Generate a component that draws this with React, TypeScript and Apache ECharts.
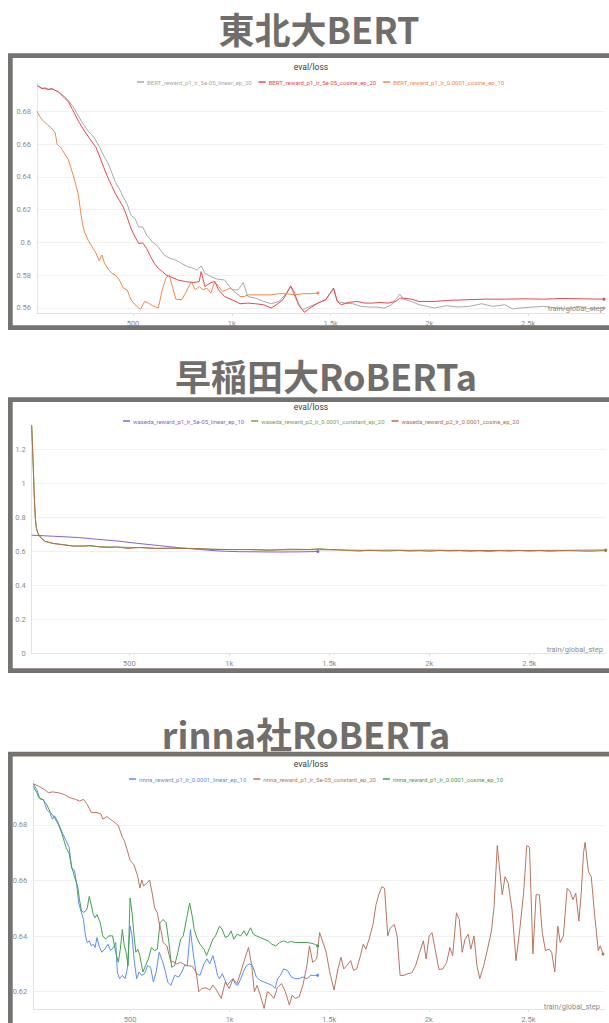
import React, { useEffect, useRef } from "react";
import * as echarts from "echarts";

// ---------- Panel 1: 東北大BERT ----------
const bertLinearEp20 = [[16,0.6954],[46,0.6938],[97,0.6932],[131,0.6912],[165,0.6877],[198,0.6826],[214,0.6790],[244,0.6729],[273,0.6679],[303,0.6639],[332,0.6578],[352,0.6528],[372,0.6487],[392,0.6427],[411,0.6366],[431,0.6326],[451,0.6276],[470,0.6235],[490,0.6165],[510,0.6145],[529,0.6094],[549,0.6094],[569,0.6044],[598,0.6003],[628,0.5973],[658,0.5923],[687,0.5903],[717,0.5892],[746,0.5872],[776,0.5852],[805,0.5842],[825,0.5832],[845,0.5856],[864,0.5812],[894,0.5792],[923,0.5777],[963,0.5771],[1002,0.5711],[1032,0.5711],[1058,0.5755],[1081,0.5670],[1121,0.5660],[1160,0.5640],[1199,0.5626],[1239,0.5640],[1278,0.5691],[1298,0.5731],[1327,0.5650],[1357,0.5590],[1396,0.5610],[1436,0.5630],[1475,0.5650],[1515,0.5721],[1534,0.5640],[1574,0.5630],[1613,0.5626],[1653,0.5610],[1692,0.5606],[1731,0.5606],[1771,0.5600],[1810,0.5620],[1850,0.5685],[1869,0.5654],[1909,0.5640],[1948,0.5620],[1988,0.5610],[2027,0.5600],[2086,0.5614],[2145,0.5606],[2204,0.5610],[2264,0.5626],[2322,0.5610],[2382,0.5620],[2421,0.5594],[2460,0.5600],[2520,0.5606],[2579,0.5610],[2638,0.5600],[2697,0.5594],[2756,0.5610],[2815,0.5594],[2884,0.5600]];
const bertCosineLr5eEp20 = [[16,0.6959],[26,0.6948],[38,0.6938],[55,0.6942],[71,0.6932],[89,0.6938],[105,0.6928],[122,0.6918],[139,0.6898],[156,0.6877],[173,0.6857],[194,0.6810],[224,0.6739],[254,0.6679],[283,0.6629],[313,0.6578],[336,0.6508],[352,0.6457],[372,0.6397],[392,0.6346],[411,0.6296],[431,0.6255],[451,0.6215],[470,0.6155],[490,0.6084],[510,0.6034],[529,0.5993],[549,0.5997],[569,0.5963],[589,0.5913],[608,0.5872],[628,0.5842],[648,0.5822],[667,0.5802],[687,0.5792],[726,0.5771],[766,0.5761],[805,0.5755],[835,0.5761],[845,0.5822],[864,0.5731],[894,0.5755],[914,0.5761],[933,0.5711],[963,0.5670],[1002,0.5650],[1042,0.5626],[1081,0.5630],[1121,0.5626],[1160,0.5620],[1199,0.5600],[1219,0.5614],[1259,0.5650],[1298,0.5735],[1318,0.5691],[1337,0.5620],[1367,0.5574],[1396,0.5600],[1436,0.5630],[1475,0.5650],[1515,0.5721],[1534,0.5640],[1554,0.5620],[1594,0.5634],[1633,0.5640],[1672,0.5630],[1712,0.5630],[1751,0.5634],[1791,0.5630],[1830,0.5640],[1850,0.5660],[1870,0.5660],[1909,0.5654],[1948,0.5640],[1988,0.5640],[2027,0.5640],[2086,0.5646],[2185,0.5650],[2283,0.5654],[2382,0.5654],[2480,0.5656],[2579,0.5654],[2677,0.5658],[2776,0.5656],[2884,0.5654]];
const bertCosineLr1e4Ep10 = [[14,0.6800],[27,0.6770],[47,0.6739],[66,0.6719],[86,0.6699],[106,0.6669],[116,0.6598],[135,0.6578],[155,0.6538],[171,0.6508],[185,0.6457],[198,0.6407],[214,0.6336],[224,0.6286],[234,0.6195],[244,0.6114],[254,0.6064],[273,0.6013],[293,0.5973],[313,0.5933],[329,0.5888],[342,0.5923],[356,0.5872],[372,0.5842],[392,0.5812],[411,0.5801],[431,0.5771],[451,0.5721],[470,0.5711],[490,0.5650],[510,0.5620],[529,0.5600],[539,0.5594],[559,0.5640],[579,0.5630],[598,0.5614],[628,0.5600],[648,0.5711],[667,0.5782],[683,0.5802],[697,0.5741],[717,0.5654],[746,0.5650],[766,0.5691],[786,0.5741],[795,0.5761],[815,0.5711],[835,0.5731],[855,0.5711],[874,0.5721],[894,0.5691],[914,0.5761],[933,0.5731],[953,0.5701],[973,0.5711],[993,0.5721],[1022,0.5691],[1042,0.5670],[1062,0.5670],[1081,0.5680],[1121,0.5680],[1160,0.5680],[1199,0.5680],[1239,0.5687],[1278,0.5687],[1318,0.5680],[1357,0.5687],[1396,0.5687],[1436,0.5691]];

// ---------- Panel 2: 早稲田大RoBERTa ----------
const wasedaLinearEp10 = [[12,0.696],[120,0.690],[250,0.682],[340,0.672],[440,0.662],[540,0.648],[650,0.635],[750,0.622],[850,0.612],[950,0.603],[1050,0.599],[1150,0.598],[1250,0.597],[1350,0.598],[1443,0.600]];
const wasedaConstantEp20 = [[12,1.343],[16,1.22],[20,1.09],[25,0.92],[30,0.80],[35,0.74],[42,0.71],[55,0.685],[78,0.66],[120,0.647],[170,0.640],[220,0.632],[300,0.633],[353,0.628],[436,0.626],[553,0.623],[630,0.619],[727,0.619],[825,0.617],[922,0.614],[1019,0.611],[1100,0.612],[1200,0.607],[1300,0.614],[1400,0.612],[1450,0.617],[1500,0.612],[1550,0.610],[1600,0.606],[1650,0.602],[1700,0.608],[1750,0.604],[1800,0.603],[1850,0.607],[1900,0.602],[1950,0.605],[2000,0.601],[2050,0.606],[2100,0.603],[2150,0.605],[2200,0.601],[2250,0.604],[2300,0.600],[2350,0.605],[2400,0.602],[2450,0.606],[2500,0.602],[2550,0.605],[2600,0.601],[2650,0.604],[2700,0.605],[2750,0.603],[2800,0.601],[2850,0.604],[2882,0.606]];
const wasedaCosineEp20 = [[12,1.343],[16,1.22],[20,1.09],[25,0.92],[30,0.80],[35,0.74],[42,0.71],[55,0.685],[78,0.66],[120,0.648],[170,0.640],[220,0.632],[280,0.632],[303,0.636],[353,0.627],[397,0.624],[436,0.627],[494,0.618],[553,0.624],[630,0.618],[727,0.620],[825,0.618],[922,0.612],[1019,0.612],[1100,0.611],[1213,0.609],[1300,0.610],[1408,0.611],[1500,0.610],[1602,0.608],[1700,0.607],[1796,0.608],[1900,0.607],[1991,0.608],[2100,0.607],[2185,0.607],[2300,0.606],[2380,0.607],[2480,0.606],[2574,0.607],[2680,0.607],[2768,0.608],[2882,0.609]];

// ---------- Panel 3: rinna社RoBERTa ----------
const rinnaLinearEp10 = [[14,0.6948],[32,0.6927],[42,0.6904],[51,0.6892],[65,0.6892],[81,0.6856],[96,0.6845],[110,0.6821],[120,0.6833],[135,0.6815],[149,0.6791],[162,0.6768],[178,0.6744],[194,0.6720],[207,0.6643],[221,0.6637],[231,0.6590],[242,0.6519],[256,0.6484],[266,0.6460],[276,0.6401],[285,0.6377],[295,0.6383],[305,0.6365],[315,0.6371],[324,0.6359],[334,0.6395],[344,0.6365],[358,0.6342],[373,0.6353],[389,0.6371],[402,0.6348],[416,0.6359],[428,0.6377],[436,0.6271],[447,0.6247],[461,0.6259],[475,0.6247],[486,0.6282],[500,0.6436],[510,0.6401],[520,0.6318],[533,0.6247],[545,0.6271],[559,0.6259],[572,0.6265],[588,0.6294],[603,0.6288],[617,0.6235],[631,0.6271],[646,0.6342],[662,0.6312],[676,0.6277],[689,0.6235],[705,0.6223],[724,0.6259],[744,0.6253],[760,0.6271],[773,0.6294],[787,0.6294],[803,0.6424],[816,0.6342],[832,0.6265],[851,0.6259],[871,0.6300],[886,0.6318],[900,0.6300],[916,0.6330],[929,0.6294],[939,0.6259],[949,0.6247],[963,0.6265],[974,0.6247],[988,0.6223],[1001,0.6235],[1017,0.6247],[1027,0.6229],[1041,0.6223],[1056,0.6247],[1072,0.6277],[1085,0.6294],[1099,0.6300],[1115,0.6294],[1134,0.6253],[1154,0.6241],[1173,0.6235],[1193,0.6229],[1212,0.6223],[1228,0.6212],[1241,0.6247],[1255,0.6259],[1271,0.6282],[1290,0.6277],[1310,0.6253],[1329,0.6247],[1349,0.6247],[1368,0.6253],[1388,0.6247],[1407,0.6259],[1427,0.6259],[1442,0.6259]];
const rinnaConstantEp20 = [[14,0.6948],[42,0.6939],[71,0.6927],[90,0.6916],[110,0.6919],[139,0.6916],[168,0.6910],[198,0.6898],[227,0.6892],[246,0.6886],[266,0.6892],[285,0.6874],[305,0.6845],[334,0.6845],[354,0.6839],[363,0.6821],[383,0.6830],[412,0.6815],[441,0.6798],[461,0.6756],[471,0.6744],[486,0.6709],[500,0.6673],[520,0.6656],[539,0.6614],[549,0.6573],[559,0.6602],[568,0.6581],[584,0.6590],[598,0.6602],[611,0.6555],[623,0.6502],[637,0.6484],[646,0.6448],[656,0.6419],[666,0.6377],[676,0.6371],[685,0.6365],[705,0.6306],[715,0.6309],[734,0.6300],[754,0.6306],[783,0.6294],[812,0.6292],[832,0.6271],[845,0.6200],[861,0.6212],[881,0.6214],[900,0.6206],[916,0.6224],[929,0.6212],[958,0.6176],[978,0.6235],[998,0.6211],[1017,0.6247],[1037,0.6229],[1056,0.6271],[1076,0.6318],[1095,0.6359],[1111,0.6294],[1124,0.6200],[1138,0.6223],[1154,0.6188],[1173,0.6140],[1189,0.6200],[1202,0.6194],[1222,0.6176],[1241,0.6217],[1261,0.6229],[1280,0.6200],[1300,0.6152],[1314,0.6188],[1329,0.6176],[1349,0.6182],[1368,0.6223],[1388,0.6294],[1401,0.6365],[1417,0.6306],[1437,0.6318],[1452,0.6413],[1485,0.6342],[1501,0.6277],[1524,0.6206],[1544,0.6282],[1559,0.6324],[1573,0.6282],[1589,0.6294],[1608,0.6312],[1622,0.6277],[1638,0.6282],[1657,0.6330],[1671,0.6371],[1684,0.6353],[1700,0.6389],[1720,0.6442],[1735,0.6513],[1749,0.6549],[1764,0.6578],[1778,0.6572],[1794,0.6401],[1807,0.6430],[1827,0.6442],[1841,0.6401],[1856,0.6259],[1876,0.6259],[1895,0.6265],[1915,0.6268],[1934,0.6294],[1954,0.6342],[1973,0.6383],[1987,0.6318],[2002,0.6401],[2016,0.6413],[2032,0.6353],[2051,0.6280],[2071,0.6282],[2090,0.6306],[2106,0.6359],[2120,0.6330],[2139,0.6484],[2153,0.6460],[2168,0.6342],[2182,0.6389],[2198,0.6407],[2211,0.6353],[2227,0.6401],[2242,0.6294],[2256,0.6247],[2276,0.6294],[2295,0.6353],[2315,0.6419],[2328,0.6507],[2344,0.6726],[2358,0.6626],[2369,0.6549],[2383,0.6614],[2399,0.6590],[2418,0.6496],[2438,0.6312],[2457,0.6424],[2477,0.6561],[2492,0.6726],[2506,0.6720],[2523,0.6336],[2539,0.6549],[2555,0.6549],[2570,0.6413],[2586,0.6348],[2605,0.6353],[2617,0.6342],[2633,0.6271],[2648,0.6436],[2660,0.6377],[2676,0.6401],[2695,0.6572],[2709,0.6561],[2724,0.6531],[2738,0.6555],[2754,0.6454],[2765,0.6549],[2777,0.6697],[2785,0.6738],[2802,0.6632],[2816,0.6614],[2832,0.6484],[2851,0.6348],[2861,0.6365],[2875,0.6336]];
const rinnaCosineEp10 = [[14,0.6939],[32,0.6916],[42,0.6898],[61,0.6892],[81,0.6874],[100,0.6845],[120,0.6827],[139,0.6803],[158,0.6768],[178,0.6720],[194,0.6697],[207,0.6649],[221,0.6614],[237,0.6578],[246,0.6531],[256,0.6490],[266,0.6486],[276,0.6490],[285,0.6501],[295,0.6543],[305,0.6513],[315,0.6478],[324,0.6466],[334,0.6478],[350,0.6448],[363,0.6401],[377,0.6389],[393,0.6401],[412,0.6401],[428,0.6342],[441,0.6306],[451,0.6353],[461,0.6424],[471,0.6365],[480,0.6342],[490,0.6294],[500,0.6537],[510,0.6484],[520,0.6401],[529,0.6342],[539,0.6353],[549,0.6330],[564,0.6271],[578,0.6294],[592,0.6318],[607,0.6359],[623,0.6348],[637,0.6353],[650,0.6448],[666,0.6460],[681,0.6448],[695,0.6377],[709,0.6288],[724,0.6294],[740,0.6342],[754,0.6389],[767,0.6401],[783,0.6460],[799,0.6519],[812,0.6472],[822,0.6424],[838,0.6389],[851,0.6371],[871,0.6353],[884,0.6330],[900,0.6359],[916,0.6389],[929,0.6401],[949,0.6436],[963,0.6424],[978,0.6395],[994,0.6401],[1007,0.6419],[1021,0.6389],[1037,0.6407],[1056,0.6401],[1072,0.6419],[1085,0.6401],[1105,0.6430],[1119,0.6407],[1134,0.6401],[1154,0.6395],[1173,0.6389],[1193,0.6383],[1212,0.6371],[1232,0.6365],[1251,0.6377],[1271,0.6383],[1290,0.6377],[1310,0.6381],[1329,0.6377],[1349,0.6377],[1368,0.6377],[1388,0.6377],[1407,0.6375],[1427,0.6371],[1442,0.6365]];

const kfmt = (v: number) => (v >= 1000 ? v / 1000 + "k" : String(v));
const FONT = "Roboto";
const LABEL = { color: "#8c8c8c", fontSize: 7.5, fontFamily: FONT };

function xAx(gridIndex: number, min: number, max: number) {
  return {
    type: "value", gridIndex, min, max, minInterval: 500, maxInterval: 500,
    axisLine: { show: true, lineStyle: { color: "#e2e2e2", width: 1 } },
    axisTick: { show: true, length: 3, lineStyle: { color: "#e2e2e2" } },
    axisLabel: { ...LABEL, margin: 6, showMinLabel: false, showMaxLabel: false, formatter: kfmt },
    splitLine: { show: false },
  };
}
function yAx(gridIndex: number, min: number, max: number, iv: number, showMin: boolean) {
  return {
    type: "value", gridIndex, min, max, minInterval: iv, maxInterval: iv,
    axisLine: { show: true, lineStyle: { color: "#e2e2e2", width: 1 } },
    axisTick: { show: false },
    axisLabel: { ...LABEL, margin: 6, showMinLabel: showMin, showMaxLabel: false },
    splitLine: { show: true, showMinLine: false, showMaxLine: false, lineStyle: { color: "#f1f1f1", width: 1 } },
  };
}
function ser(name: string, data: number[][], color: string, idx: number) {
  const last = data[data.length - 1];
  return {
    type: "line", name, data, xAxisIndex: idx, yAxisIndex: idx,
    showSymbol: false, symbol: "none", color,
    lineStyle: { color, width: 1 },
    markPoint: {
      symbol: "circle", symbolSize: 3, label: { show: false },
      itemStyle: { color }, data: [{ coord: last }], silent: true,
    },
  };
}
function leg(top: number, left: number, names: string[], colors: string[]) {
  return {
    top, left, orient: "horizontal", icon: "rect", itemWidth: 7, itemHeight: 1.5, itemGap: 7,
    textStyle: { fontSize: 6, fontFamily: FONT, padding: [0, 0, 0, -2] },
    data: names.map((n, i) => ({ name: n, textStyle: { color: colors[i] } })),
    selectedMode: false,
  };
}
function frame(y: number, h: number) {
  return {
    type: "rect", z: 100, silent: true,
    shape: { x: 10.35, y, width: 640, height: h },
    style: { fill: "none", stroke: "#767270", lineWidth: 4.7 },
  };
}
function txt(x: number, y: number, text: string, font: string, fill: string, align = "center") {
  return { type: "text", x, y, z: 90, silent: true, style: { text, font, fill, align, verticalAlign: "middle" } };
}

const P1 = ["BERT_reward_p1_lr_5e-05_linear_ep_20", "BERT_reward_p1_lr_5e-05_cosine_ep_20", "BERT_reward_p1_lr_0.0001_cosine_ep_10"];
const C1 = ["#a9a9a9", "#e8464e", "#f0874c"];
const P2 = ["waseda_reward_p1_lr_5e-05_linear_ep_10", "waseda_reward_p2_lr_0.0001_constant_ep_20", "waseda_reward_p2_lr_0.0001_cosine_ep_20"];
const C2 = ["#8a5fd4", "#7ca53f", "#b26d4f"];
const P3 = ["rinna_reward_p1_lr_0.0001_linear_ep_10", "rinna_reward_p1_lr_5e-05_constant_ep_20", "rinna_reward_p1_lr_0.0001_cosine_ep_10"];
const C3 = ["#5b8ef0", "#b87560", "#45a050"];

export default function App() {
  const ref = useRef<HTMLDivElement>(null);
  useEffect(() => {
    if (!ref.current) return;
    const chart = echarts.init(ref.current, undefined, { renderer: "svg" });
    const titleFont = 'bold 36px "Noto Sans CJK JP"';
    chart.setOption({
      animation: false,
      backgroundColor: "#ffffff",
      textStyle: { fontFamily: FONT },
      grid: [
        { left: 37, top: 83, width: 568, height: 230 },
        { left: 31.7, top: 424.9, width: 574, height: 228.6 },
        { left: 33.3, top: 780.5, width: 571.5, height: 230.2 },
      ],
      xAxis: [xAx(0, 14, 2889), xAx(1, 12, 2882), xAx(2, 14, 2884)],
      yAxis: [yAx(0, 0.55695, 0.6972, 0.02, false), yAx(1, 0, 1.345, 0.2, true), yAx(2, 0.61379, 0.696, 0.02, false)],
      legend: [leg(74, 132, P1, C1), leg(413, 118, P2, C2), leg(771, 124, P3, C3)],
      series: [
        ser(P1[0], bertLinearEp20, C1[0], 0),
        ser(P1[1], bertCosineLr5eEp20, C1[1], 0),
        ser(P1[2], bertCosineLr1e4Ep10, C1[2], 0),
        ser(P2[0], wasedaLinearEp10, C2[0], 1),
        ser(P2[1], wasedaConstantEp20, C2[1], 1),
        ser(P2[2], wasedaCosineEp20, C2[2], 1),
        ser(P3[0], rinnaLinearEp10, C3[0], 2),
        ser(P3[1], rinnaConstantEp20, C3[1], 2),
        ser(P3[2], rinnaCosineEp10, C3[2], 2),
      ],
      graphic: [
        frame(55.65, 271.9),
        frame(399.65, 270.9),
        frame(754.2, 400),
        txt(319, 28, "東北大BERT", titleFont, "#716d6b"),
        txt(326, 374.5, "早稲田大RoBERTa", titleFont, "#716d6b"),
        txt(306, 732.5, "rinna社RoBERTa", titleFont, "#716d6b"),
        txt(311, 67, "eval/loss", `8.5px ${FONT}`, "#3a3a3a"),
        txt(311, 406.5, "eval/loss", `8.5px ${FONT}`, "#3a3a3a"),
        txt(311, 764, "eval/loss", `8.5px ${FONT}`, "#3a3a3a"),
        txt(604, 308, "train/global_step", `7.5px ${FONT}`, "#8c8c8c", "right"),
        txt(603, 649, "train/global_step", `7.5px ${FONT}`, "#8c8c8c", "right"),
        txt(600, 1006.5, "train/global_step", `7.5px ${FONT}`, "#8c8c8c", "right"),
      ],
    });
    return () => chart.dispose();
  }, []);
  return (
    <div
      ref={ref}
      style={{ position: "absolute", left: 0, top: 0, width: 609, height: 1023, background: "#fff" }}
    />
  );
}
